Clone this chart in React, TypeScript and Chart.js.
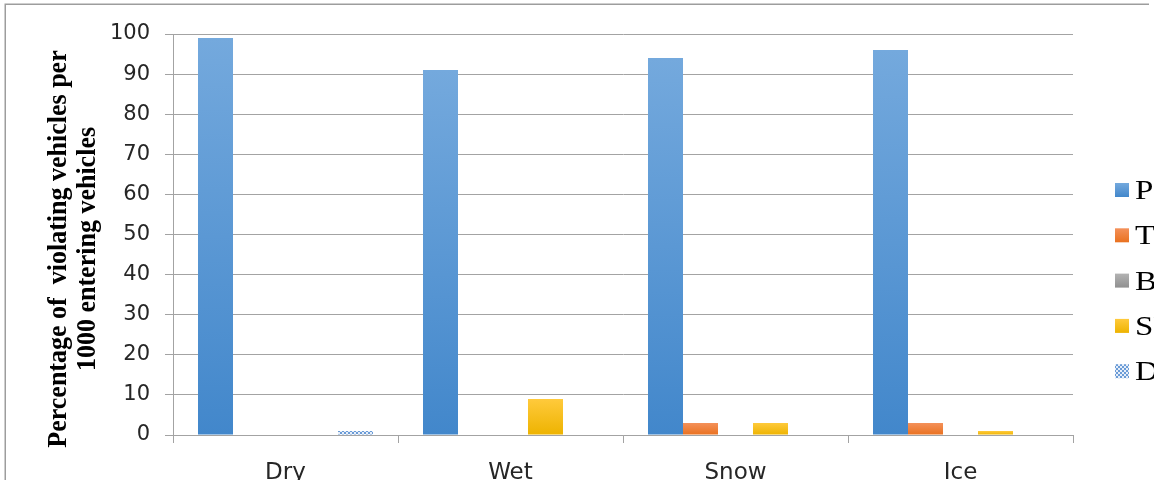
import { useEffect, useRef } from "react";
import { Chart, registerables } from "chart.js";

Chart.register(...registerables);

// Road surface conditions on the category axis
const conditions = ["Dry", "Wet", "Snow", "Ice"];

// Vehicle classes shown in the legend
const seriesNames = ["Passenger cars", "Trucks", "Buses", "SUVs", "Delivery vans"];

// Violating vehicles per 1000 entering vehicles, by condition
const passengerCars = [99, 91, 94, 96];
const trucks = [0, 0, 3, 3];
const buses = [0, 0, 0, 0];
const suvs = [0, 9, 3, 1];
const deliveryVans = [1, 0, 0, 0];

// Value axis
const yMin = 0;
const yMax = 100;
const yStep = 10;
const yTitleLines = ["Percentage of  violating vehicles per", "1000 entering vehicles"];

const GRID = "#a3a3a3";
const TEXT = "#262626";
const SANS = "'DejaVu Sans', sans-serif";
const SERIF = "'Liberation Serif', 'Times New Roman', serif";

// Top/bottom stops of each series' vertical gradient fill
const fillStops: Array<[string, string] | null> = [
  ["#74a9dd", "#4287cb"],
  ["#f4915a", "#e9711f"],
  ["#b3b3b3", "#909090"],
  ["#ffca3c", "#edb300"],
  null,
];

function makeChecker(ctx: CanvasRenderingContext2D): CanvasPattern | string {
  const c = document.createElement("canvas");
  c.width = 4;
  c.height = 4;
  const g = c.getContext("2d");
  if (!g) return "#8fb4e3";
  g.fillStyle = "#e6eef9";
  g.fillRect(0, 0, 4, 4);
  g.fillStyle = "#6a9bd6";
  g.fillRect(0, 0, 2, 2);
  g.fillRect(2, 2, 2, 2);
  return ctx.createPattern(c, "repeat") || "#8fb4e3";
}

function barFill(index: number) {
  return (context: any) => {
    const chart = context.chart;
    const stops = fillStops[index];
    if (!stops) return makeChecker(chart.ctx);
    const y = chart.scales?.y;
    if (!y || !chart.chartArea || typeof context.raw !== "number") return stops[1];
    const top = y.getPixelForValue(context.raw);
    const bottom = y.getPixelForValue(0);
    if (!isFinite(top) || !isFinite(bottom) || Math.abs(bottom - top) < 0.5) return stops[1];
    const grad = chart.ctx.createLinearGradient(0, top, 0, bottom);
    grad.addColorStop(0, stops[0]);
    grad.addColorStop(1, stops[1]);
    return grad;
  };
}

// Outer frame, rotated axis title and the right-hand legend
const decorations = {
  id: "decorations",
  afterDraw(chart: any) {
    const ctx: CanvasRenderingContext2D = chart.ctx;
    ctx.save();

    // frame
    ctx.strokeStyle = "#9d9d9d";
    ctx.lineWidth = 1.5;
    ctx.beginPath();
    ctx.moveTo(5.25, 480);
    ctx.lineTo(5.25, 4.25);
    ctx.lineTo(1149, 4.25);
    ctx.stroke();

    // y-axis title
    ctx.fillStyle = "#000";
    ctx.font = `bold 26px ${SERIF}`;
    ctx.textAlign = "center";
    ctx.textBaseline = "alphabetic";
    const baselines = [66, 95];
    yTitleLines.forEach((line, i) => {
      ctx.save();
      ctx.translate(baselines[i], 249);
      ctx.rotate(-Math.PI / 2);
      ctx.scale(1, 1.08);
      ctx.fillText(line, 0, 0);
      ctx.restore();
    });

    // legend
    ctx.font = `27px ${SERIF}`;
    ctx.textAlign = "left";
    const size = 14;
    chart.data.datasets.forEach((ds: any, i: number) => {
      const cy = 190 + i * 45.3;
      const x = 1115;
      const y = cy - size / 2;
      const stops = fillStops[i];
      if (stops) {
        const g = ctx.createLinearGradient(0, y, 0, y + size);
        g.addColorStop(0, stops[0]);
        g.addColorStop(1, stops[1]);
        ctx.fillStyle = g;
      } else {
        ctx.fillStyle = makeChecker(ctx);
      }
      ctx.fillRect(x, y, size, size);
      ctx.fillStyle = "#000";
      ctx.save();
      ctx.translate(1135, cy + 9);
      ctx.scale(1.22, 1);
      ctx.fillText(ds.label, 0, 0);
      ctx.restore();
    });

    ctx.restore();
  },
};

export default function App() {
  const canvasRef = useRef<HTMLCanvasElement | null>(null);

  useEffect(() => {
    const canvas = canvasRef.current;
    if (!canvas) return;
    const values = [passengerCars, trucks, buses, suvs, deliveryVans];
    const chart = new Chart(canvas, {
      type: "bar",
      data: {
        labels: conditions,
        datasets: values.map((data, i) => ({
          label: seriesNames[i],
          data,
          backgroundColor: barFill(i),
          borderWidth: 0,
          categoryPercentage: 175 / 225,
          barPercentage: 1,
        })),
      },
      options: {
        responsive: false,
        animation: false,
        devicePixelRatio: 1,
        layout: { padding: { left: 0, top: 34, right: 81, bottom: 0 } },
        plugins: {
          legend: { display: false },
          tooltip: { enabled: false },
          title: { display: false },
        },
        scales: {
          x: {
            grid: {
              offset: true,
              drawOnChartArea: false,
              drawTicks: true,
              tickLength: 8,
              color: GRID,
            },
            border: { display: true, color: GRID },
            ticks: {
              font: { family: SANS, size: 23 },
              color: TEXT,
              padding: 16,
              maxRotation: 0,
            },
            afterFit: (scale: any) => {
              scale.height = 45;
            },
          },
          y: {
            min: yMin,
            max: yMax,
            ticks: {
              stepSize: yStep,
              font: { family: SANS, size: 21 },
              color: TEXT,
              padding: 15,
            },
            grid: { color: GRID, tickLength: 8 },
            border: { display: true, color: GRID },
            afterFit: (scale: any) => {
              scale.width = 173;
            },
          },
        },
      },
      plugins: [decorations],
    });
    return () => chart.destroy();
  }, []);

  return (
    <div
      style={{
        position: "fixed",
        left: 0,
        top: 0,
        width: 1154,
        height: 480,
        background: "#fff",
        overflow: "hidden",
      }}
    >
      <canvas ref={canvasRef} width={1154} height={480} style={{ display: "block" }} />
    </div>
  );
}
